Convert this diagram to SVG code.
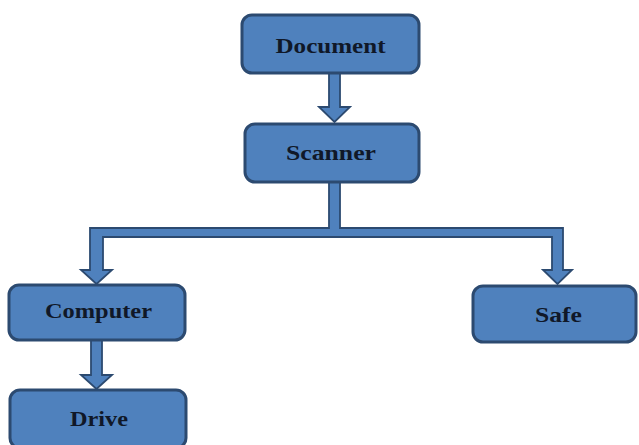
<svg xmlns="http://www.w3.org/2000/svg" width="639" height="445" viewBox="0 0 639 445">
<style>
.box{fill:#4F81BD;stroke:#2C4A70;stroke-width:3}
.arr{fill:#4F81BD;stroke:#2C4A70;stroke-width:1.8;stroke-linejoin:miter}
.lbl{font-family:"Liberation Serif","DejaVu Serif",serif;font-size:21px;font-weight:bold;fill:#101828;text-anchor:middle}
</style>
<rect width="639" height="445" fill="#ffffff"/>
<g id="connectors">
<path class="arr" d="M329 73 L340 73 L340 107 L350 107 L334.5 122 L319 107 L329 107 Z"/>
<path class="arr" d="M329 182 L340 182 L340 228 L563 228 L563 270 L572 270 L557.5 284 L543 270 L552 270 L552 237 L103 237 L103 270 L112 270 L96.5 284 L81 270 L90 270 L90 228 L329 228 Z"/>
<path class="arr" d="M91 340 L102 340 L102 375 L112 375 L96.5 389 L81 375 L91 375 Z"/>
</g>
<g id="document">
<rect class="box" x="242" y="15" width="177" height="58" rx="10"/>
<text class="lbl" x="330.5" y="53" textLength="110" lengthAdjust="spacingAndGlyphs">Document</text>
</g>
<g id="scanner">
<rect class="box" x="245" y="124" width="174" height="58" rx="10"/>
<text class="lbl" x="331" y="160" textLength="90" lengthAdjust="spacingAndGlyphs">Scanner</text>
</g>
<g id="computer">
<rect class="box" x="9" y="285" width="176" height="55" rx="10"/>
<text class="lbl" x="98.5" y="318" textLength="107" lengthAdjust="spacingAndGlyphs">Computer</text>
</g>
<g id="safe">
<rect class="box" x="473" y="286" width="163" height="56" rx="10"/>
<text class="lbl" x="558.5" y="322" textLength="47" lengthAdjust="spacingAndGlyphs">Safe</text>
</g>
<g id="drive">
<rect class="box" x="10" y="390" width="176" height="58" rx="10"/>
<text class="lbl" x="99" y="426" textLength="58" lengthAdjust="spacingAndGlyphs">Drive</text>
</g>
</svg>
